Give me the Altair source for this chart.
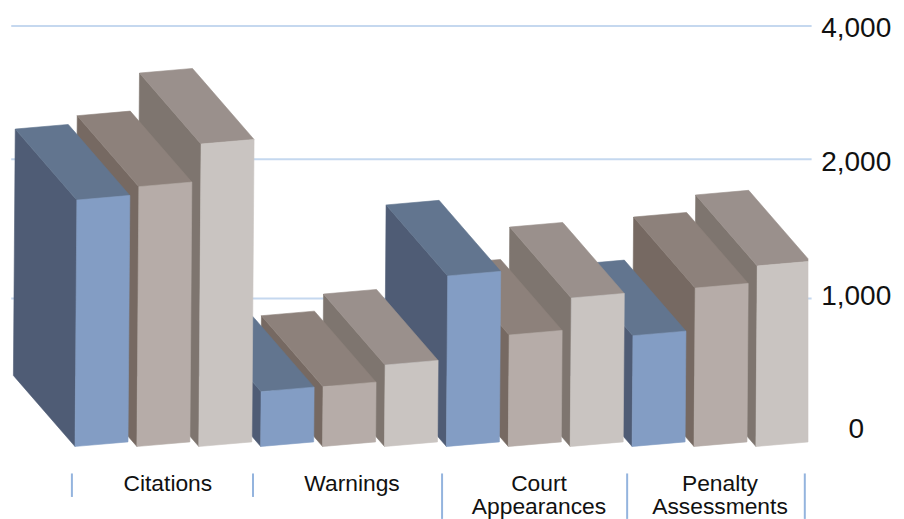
import altair as alt
import pandas as pd

# Values (units along the drawn scale), one list per series
series_a = [1773, 394, 1227, 797]
series_b = [1869, 430, 802, 1140]
series_c = [2176, 586, 1068, 1299]

categories = ["Citations", "Warnings", "Court\nAppearances", "Penalty\nAssessments"]
category_pos = [1.5, 4.475, 7.496, 10.42]
separator_pos = [-0.05, 2.876, 5.93, 8.92, 11.79]
separator_end = [-363, -363, -521, -521, -521]
tick_labels = ["0", "1,000", "2,000", "4,000"]
tick_pos = [119, 1076, 2040, 3004]
grid_pos = [1065, 2067, 3025]

front = ["#839DC4", "#B6ACA8", "#C9C4C1"]
top = ["#62758F", "#8D817B", "#9A908C"]
side = ["#4F5C75", "#766962", "#7E756F"]
grid_color = "#C5D8EF"
sep_color = "#94B4DE"
FONT = "Liberation Sans"

# Drawing scale: one x unit = one bar slot, 1000 y units = 139 pixels
SLOT = 61.9
YPX = 0.139
x_scale = alt.Scale(domain=[-1.0824, 13.2633], range=[0, 888], nice=False, zero=False)
y_scale = alt.Scale(domain=[-521.6, 3154.7], range=[511, 0], nice=False, zero=False)

BAR_W = 53 / SLOT
RISE = 4.6 / YPX
DEPTH_X = 61.6 / SLOT
DEPTH_Y = 71 / YPX
LEAN = 0.0075 * YPX / SLOT
RIGHT_CLIP = (808 - 75) / SLOT


def envelope(poly):
    xs = sorted({round(min(p[0], RIGHT_CLIP), 5) for p in poly})
    rows = []
    n = len(poly)
    for x in xs:
        ys = []
        for k in range(n):
            (x1, y1), (x2, y2) = poly[k], poly[(k + 1) % n]
            lo, hi = min(x1, x2), max(x1, x2)
            if x < lo - 1e-4 or x > hi + 1e-4:
                continue
            if abs(x2 - x1) < 1e-4:
                ys += [y1, y2]
            else:
                ys.append(y1 + (y2 - y1) * (x - x1) / (x2 - x1))
        rows.append({"x": x, "y": max(ys), "y2": min(ys)})
    return pd.DataFrame(rows)


def face(poly, color):
    return (
        alt.Chart(envelope(poly))
        .mark_area(color=color, stroke=color, strokeWidth=0.6, interpolate="linear")
        .encode(
            x=alt.X("x:Q", scale=x_scale, axis=None),
            y=alt.Y("y:Q", scale=y_scale, axis=None),
            y2="y2:Q",
        )
    )


layers = []

for g in grid_pos:
    layers.append(
        alt.Chart(pd.DataFrame({"y": [g], "x": [-1.03], "x2": [11.9]}))
        .mark_rule(color=grid_color, strokeWidth=2)
        .encode(
            x=alt.X("x:Q", scale=x_scale, axis=None),
            x2="x2:Q",
            y=alt.Y("y:Q", scale=y_scale, axis=None),
        )
    )

# Painter's order: right-most bar first
bars = []
for c in range(4):
    for s, vals in enumerate([series_a, series_b, series_c]):
        bars.append((c * 3 + s, vals[c], s))

for i, v, s in reversed(bars):
    lean = LEAN * v
    ftl = (i + lean, v)
    ftr = (i + lean + BAR_W, v + RISE)
    fbl = (i, 0)
    fbr = (i + BAR_W, RISE)
    btl = (ftl[0] - DEPTH_X, v + DEPTH_Y)
    btr = (ftr[0] - DEPTH_X, v + RISE + DEPTH_Y)
    bbl = (i - DEPTH_X, DEPTH_Y)
    layers.append(face([btl, ftl, fbl, bbl], side[s]))
    layers.append(face([btl, btr, ftr, ftl], top[s]))
    layers.append(face([ftl, ftr, fbr, fbl], front[s]))

layers.append(
    alt.Chart(pd.DataFrame({"x": separator_pos, "y": [-194] * 5, "y2": separator_end}))
    .mark_rule(color=sep_color, strokeWidth=2)
    .encode(
        x=alt.X("x:Q", scale=x_scale, axis=None),
        y=alt.Y("y:Q", scale=y_scale, axis=None),
        y2="y2:Q",
    )
)

layers.append(
    alt.Chart(pd.DataFrame({"x": category_pos, "y": [-320] * 4, "t": categories}))
    .mark_text(font=FONT, fontSize=22.8, align="center", baseline="alphabetic",
               lineBreak="\n", lineHeight=23, color="#111111")
    .encode(
        x=alt.X("x:Q", scale=x_scale, axis=None),
        y=alt.Y("y:Q", scale=y_scale, axis=None),
        text="t:N",
    )
)

layers.append(
    alt.Chart(pd.DataFrame({"x": [12.62] * 4, "y": tick_pos, "t": tick_labels}))
    .mark_text(font=FONT, fontSize=28, align="center", baseline="middle", color="#111111")
    .encode(
        x=alt.X("x:Q", scale=x_scale, axis=None),
        y=alt.Y("y:Q", scale=y_scale, axis=None),
        text="t:N",
    )
)

chart = (
    alt.layer(*layers)
    .properties(width=888, height=511, padding=0, autosize=alt.AutoSizeParams(type="none"))
    .configure_view(stroke=None)
)

chart.save("out.html", embed_options={"renderer": "svg", "actions": False})
